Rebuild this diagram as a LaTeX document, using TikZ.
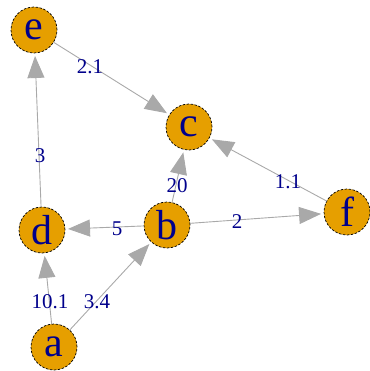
\documentclass[tikz,border=0pt]{standalone}
\usepackage{fontspec}
\setmainfont{Liberation Serif}
\usetikzlibrary{arrows.meta}
\definecolor{vfill}{HTML}{E69F00}
\definecolor{lblue}{HTML}{00008B}
\definecolor{egray}{HTML}{A9A9A9}
\tikzset{
  vert/.style={circle, fill=vfill, draw=black, line width=0.7pt, dash pattern=on 2.5pt off 1.5pt,
    minimum size=46pt, inner sep=0pt, outer sep=0pt, text=lblue,
    font=\fontsize{42}{48}\selectfont},
  elabel/.style={text=lblue, inner sep=0pt, font=\fontsize{21}{24}\selectfont},
  edge/.style={draw=egray, line width=0.9pt, shorten >=3pt,
    -{Triangle[length=22pt,width=17pt]}}
}
\begin{document}
\begin{tikzpicture}[x=1pt,y=-1pt]
\useasboundingbox (0,0) rectangle (369,371);
\node[vert] (e) at (34,30) {e};
\node[vert] (c) at (189,127) {c};
\node[vert] (f) at (347,212) {f};
\node[vert] (d) at (42,230) {d};
\node[vert] (b) at (167,225) {b};
\node[vert] (a) at (54,347) {a};
\draw[edge] (e) -- (c);
\draw[edge] (d) -- (e);
\draw[edge] (b) -- (c);
\draw[edge] (f) -- (c);
\draw[edge] (b) -- (f);
\draw[edge] (b) -- (d);
\draw[edge] (a) -- (d);
\draw[edge] (a) -- (b);
\node[elabel] (l1) at (90,67) {2.1};
\node[elabel] (l2) at (40,156) {3};
\node[elabel] (l3) at (177,186) {20};
\node[elabel] (l4) at (288,182) {1.1};
\node[elabel] (l5) at (237,222) {2};
\node[elabel] (l6) at (117,229) {5};
\node[elabel] (l7) at (50,302) {10.1};
\node[elabel] (l8) at (97,302) {3.4};
\end{tikzpicture}
\end{document}
